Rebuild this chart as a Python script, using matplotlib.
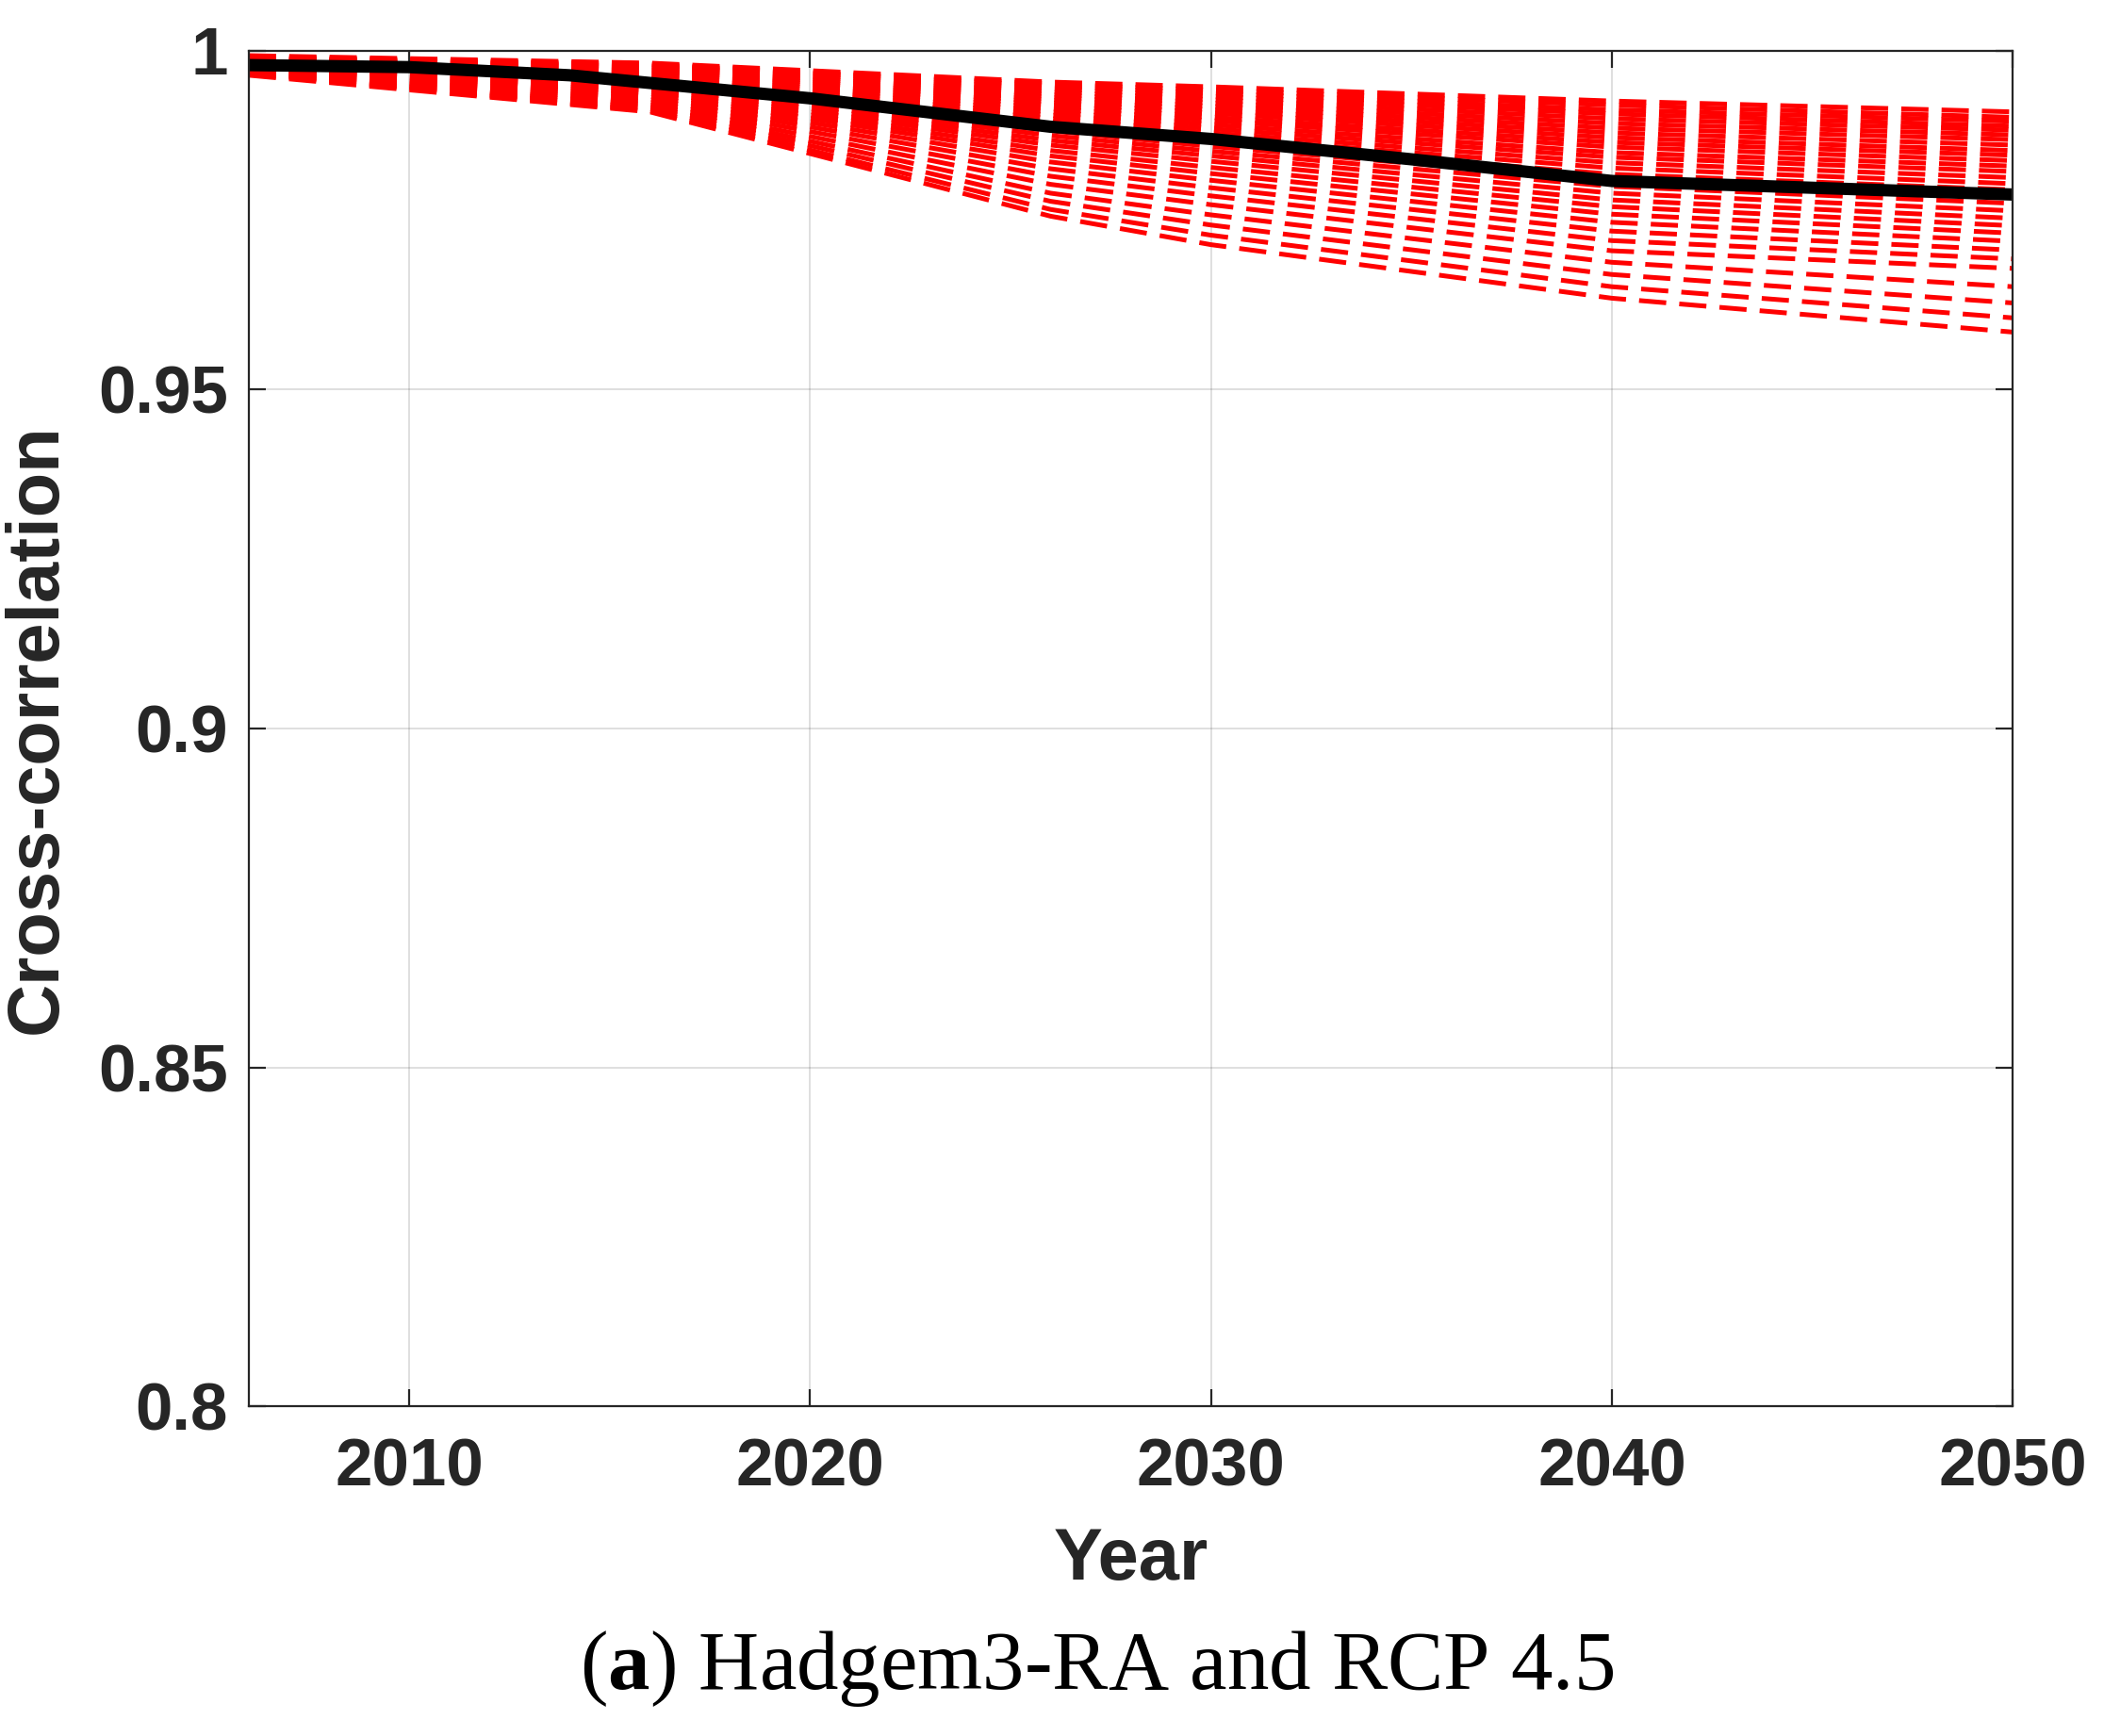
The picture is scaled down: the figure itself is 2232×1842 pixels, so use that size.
import numpy as np
import matplotlib
matplotlib.use("Agg")
import matplotlib.pyplot as plt

plt.rcParams['font.family'] = ['Liberation Sans', 'DejaVu Sans']
plt.rcParams['mathtext.fontset'] = 'custom'
plt.rcParams['mathtext.bf'] = 'Liberation Serif:bold'
plt.rcParams['mathtext.rm'] = 'Liberation Serif'
plt.rcParams['lines.scale_dashes'] = False

# ensemble members (red dashed), values at the knot years
member_years = [2006, 2016, 2026, 2030, 2040, 2050]
members = [
    [0.9993, 0.9982, 0.9954, 0.9947, 0.9926, 0.9910],
    [0.9991, 0.9980, 0.9951, 0.9942, 0.9920, 0.9902],
    [0.9990, 0.9979, 0.9948, 0.9938, 0.9913, 0.9896],
    [0.9989, 0.9977, 0.9944, 0.9933, 0.9907, 0.9889],
    [0.9988, 0.9976, 0.9940, 0.9928, 0.9900, 0.9883],
    [0.9988, 0.9974, 0.9936, 0.9923, 0.9893, 0.9876],
    [0.9987, 0.9972, 0.9932, 0.9918, 0.9886, 0.9869],
    [0.9986, 0.9971, 0.9928, 0.9913, 0.9879, 0.9861],
    [0.9985, 0.9969, 0.9924, 0.9908, 0.9872, 0.9853],
    [0.9984, 0.9967, 0.9920, 0.9902, 0.9865, 0.9846],
    [0.9984, 0.9965, 0.9915, 0.9897, 0.9858, 0.9838],
    [0.9983, 0.9963, 0.9910, 0.9891, 0.9850, 0.9830],
    [0.9982, 0.9961, 0.9905, 0.9885, 0.9843, 0.9822],
    [0.9981, 0.9959, 0.9900, 0.9879, 0.9835, 0.9813],
    [0.9980, 0.9957, 0.9894, 0.9873, 0.9827, 0.9804],
    [0.9979, 0.9955, 0.9888, 0.9866, 0.9818, 0.9795],
    [0.9978, 0.9952, 0.9882, 0.9859, 0.9809, 0.9785],
    [0.9977, 0.9949, 0.9875, 0.9852, 0.9800, 0.9775],
    [0.9976, 0.9946, 0.9868, 0.9845, 0.9790, 0.9764],
    [0.9975, 0.9943, 0.9861, 0.9837, 0.9780, 0.9753],
    [0.9974, 0.9940, 0.9853, 0.9828, 0.9770, 0.9742],
    [0.9973, 0.9937, 0.9845, 0.9819, 0.9759, 0.9731],
    [0.9972, 0.9933, 0.9836, 0.9809, 0.9747, 0.9719],
    [0.9971, 0.9929, 0.9826, 0.9798, 0.9734, 0.9706],
    [0.9970, 0.9925, 0.9815, 0.9786, 0.9720, 0.9693],
    [0.9969, 0.9921, 0.9803, 0.9773, 0.9705, 0.9679],
    [0.9968, 0.9918, 0.9790, 0.9758, 0.9688, 0.9652],
    [0.9967, 0.9915, 0.9778, 0.9743, 0.9670, 0.9628],
    [0.9966, 0.9912, 0.9766, 0.9728, 0.9652, 0.9606],
    [0.9964, 0.9910, 0.9756, 0.9714, 0.9635, 0.9585],
]

# reference (black) curve
ref_years = [2006, 2010, 2014, 2020, 2026, 2030, 2035, 2040, 2045, 2050]
ref_vals = [0.9979, 0.9976, 0.9964, 0.9930, 0.9888, 0.9870, 0.9840, 0.9808, 0.9798, 0.9788]

xticks = [2010, 2020, 2030, 2040, 2050]
yticks = [0.8, 0.85, 0.9, 0.95, 1.0]
ytick_labels = ['0.8', '0.85', '0.9', '0.95', '1']

fig = plt.figure(figsize=(11.16, 9.21), dpi=200)
ax = fig.add_axes([0.1183, 0.19, 0.8383, 0.7807])

for m in members:
    ax.plot(member_years, m, color='red', lw=1.8, linestyle=(0, (10.4, 5.0)),
            dash_capstyle='butt', clip_on=False)
ax.plot(ref_years, ref_vals, color='black', lw=4.7, clip_on=False,
        solid_capstyle='butt')

ax.set_xlim(2006, 2050)
ax.set_ylim(0.8, 1.0)
ax.set_xticks(xticks)
ax.set_yticks(yticks)
ax.set_yticklabels(ytick_labels)
ax.grid(True, color='#262626', alpha=0.15, lw=0.7)
ax.set_axisbelow(True)

ax.tick_params(direction='in', length=6.5, width=0.8, top=True, right=True,
               colors='#262626', labelsize=25.5, labelcolor='#262626')
ax.tick_params(axis='x', pad=12)
ax.tick_params(axis='y', pad=8)
for lab in ax.get_xticklabels() + ax.get_yticklabels():
    lab.set_fontweight('bold')
for s in ax.spines.values():
    s.set_color('#262626')
    s.set_linewidth(0.8)

ax.set_xlabel('Year', fontsize=28, fontweight='bold', color='#262626', labelpad=10)
ax.set_ylabel('Cross-correlation', fontsize=28, fontweight='bold', color='#262626', labelpad=10)

fig.text(0.5213, 0.0271, r'($\mathbf{a}$) Hadgem3-RA and RCP 4.5', ha='center', va='baseline',
         fontsize=32, family='Liberation Serif', color='black')

fig.savefig('out.png', dpi=200)
